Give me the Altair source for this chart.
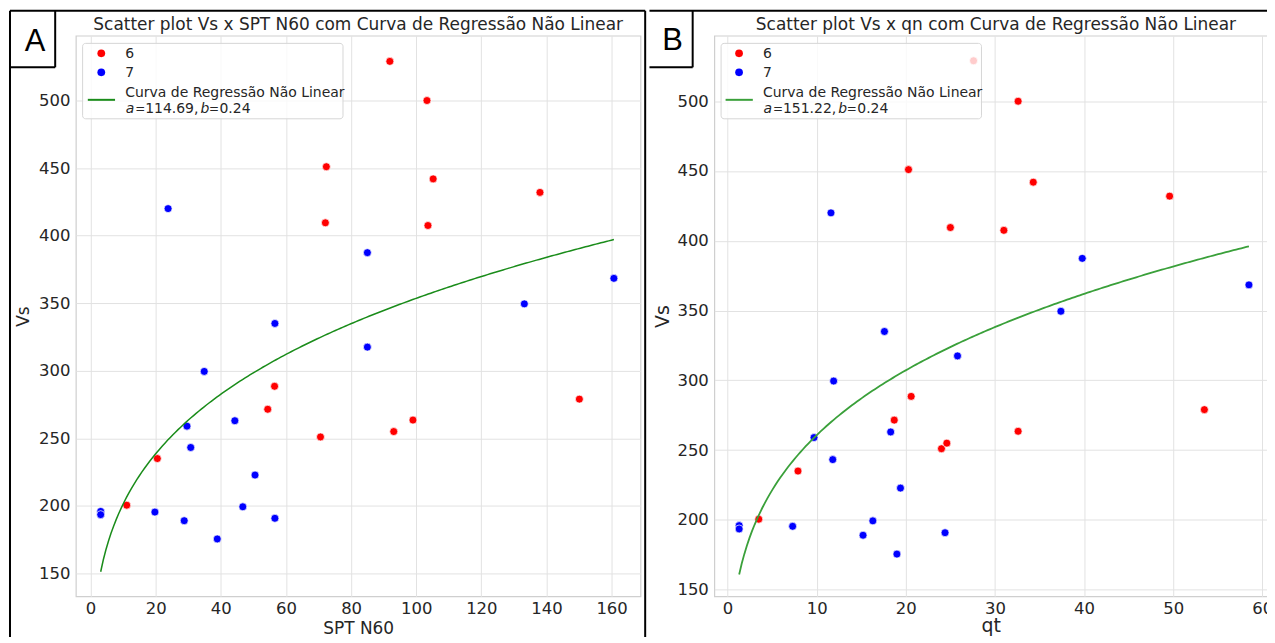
import altair as alt
import numpy as np
import pandas as pd

# ---------------- data ----------------
groups = ["6", "7"]
group_colors = ["#ff0000", "#0000ff"]

vs_red = [529, 500, 451, 442, 432, 409.5, 407.5, 288.5, 271.5, 251, 255, 263.5, 279, 235, 200.5]
spt_red = [91.9, 103.3, 72.4, 105.2, 138.0, 72.1, 103.6, 56.5, 54.4, 70.6, 93.1, 99.0, 150.1, 20.5, 11.1]
qt_red = [27.6, 32.6, 20.3, 34.3, 49.6, 25.0, 31.0, 20.6, 18.7, 24.0, 24.6, 32.6, 53.5, 7.9, 3.5]

vs_blue = [420, 387.4, 335, 349.5, 368.4, 317.5, 299.5, 259, 263, 243.2, 222.8, 195.9, 193.5,
           195.4, 189, 175.5, 199.3, 190.8]
spt_blue = [23.8, 85.0, 56.6, 133.2, 160.7, 85.0, 34.9, 29.6, 44.3, 30.75, 50.5, 3.1, 3.1,
            19.75, 28.75, 38.9, 46.75, 56.6]
qt_blue = [11.6, 39.8, 17.6, 37.4, 58.5, 25.8, 11.9, 9.7, 18.3, 11.8, 19.4, 1.3, 1.3,
           7.3, 15.2, 19.0, 16.3, 24.4]

# fitted model Vs = a * x^b (parameters shown, rounded, in the legends)
fit_a = [114.69, 151.22]
fit_b = [0.2445, 0.2366]
fit_a_text = ["114.69,", "151.22,"]
fit_b_text = ["0.24", "0.24"]

titles = ["Scatter plot Vs x SPT N60 com Curva de Regressão Não Linear",
          "Scatter plot Vs x qn com Curva de Regressão Não Linear"]
x_titles = ["SPT N60", "qt"]
letters = ["A", "B"]
x_ticks = [list(range(0, 161, 20)), list(range(0, 61, 10))]
y_ticks = list(range(150, 501, 50))
legend_curve_label = "Curva de Regressão Não Linear"

FONT = "DejaVu Sans"
INK = "#262626"
ONE = pd.DataFrame({"k": [0]})
H = 562


def points_frame(xr, xb):
    return pd.DataFrame({
        "x": list(xr) + list(xb),
        "vs": list(vs_red) + list(vs_blue),
        "grp": [groups[0]] * len(xr) + [groups[1]] * len(xb),
    })


def curve_frame(xs, a, b):
    xx = np.linspace(min(xs), max(xs), 200)
    return pd.DataFrame({"x": xx, "vs": a * xx ** b})


def txt(x, y, s, size, align="left", italic=False, font=FONT, color=INK):
    return alt.Chart(ONE).mark_text(
        text=s, align=align, baseline="alphabetic", font=font, fontSize=size,
        fontStyle="italic" if italic else "normal", color=color
    ).encode(x=alt.value(x), y=alt.value(y))


def hrule(x, x2, y, color="black", w=2):
    return alt.Chart(ONE).mark_rule(color=color, strokeWidth=w).encode(
        x=alt.value(x), x2=alt.value(x2), y=alt.value(y))


def vrule(x, y, y2, color="black", w=2):
    return alt.Chart(ONE).mark_rule(color=color, strokeWidth=w).encode(
        x=alt.value(x), y=alt.value(y), y2=alt.value(y2))


def panel(i, xr, xb, xdom, ydom, width, curve_color, curve_w, ax_title_size,
          y_title_pad, x_title_pad, frame, title_x, leg_text_x):
    pts = points_frame(xr, xb)
    cur = curve_frame(list(xr) + list(xb), fit_a[i], fit_b[i])
    xaxis = alt.Axis(values=x_ticks[i], title=x_titles[i], grid=True, gridColor="#e2e2e2",
                     gridWidth=1, domain=False, ticks=False, tickSize=0, labelFont=FONT,
                     labelFontSize=16.5, labelColor=INK, labelPadding=4, titleFont=FONT,
                     titleFontSize=ax_title_size, titleFontWeight="normal", titleColor=INK,
                     titlePadding=x_title_pad, labelFlush=False)
    yaxis = alt.Axis(values=y_ticks, title="Vs", grid=True, gridColor="#e2e2e2",
                     gridWidth=1, domain=False, ticks=False, tickSize=0, labelFont=FONT,
                     labelFontSize=16.5, labelColor=INK, labelPadding=6, titleFont=FONT,
                     titleFontSize=ax_title_size, titleFontWeight="normal", titleColor=INK,
                     titlePadding=y_title_pad)
    xs = alt.Scale(domain=xdom, nice=False, zero=False)
    ys = alt.Scale(domain=ydom, nice=False, zero=False)

    scatter = alt.Chart(pts).mark_circle(size=64, opacity=1, stroke="white", strokeWidth=0.7).encode(
        x=alt.X("x:Q", scale=xs, axis=xaxis),
        y=alt.Y("vs:Q", scale=ys, axis=yaxis),
        color=alt.Color("grp:N", scale=alt.Scale(domain=groups, range=group_colors), legend=None),
    )
    curve = alt.Chart(cur).mark_line(color=curve_color, strokeWidth=curve_w).encode(
        x=alt.X("x:Q", scale=xs, axis=xaxis),
        y=alt.Y("vs:Q", scale=ys, axis=yaxis),
    )

    # legend box (drawn over the data, like matplotlib's framed legend)
    leg_box = alt.Chart(ONE).mark_rect(fill="white", fillOpacity=0.8, stroke="#d6d6d6",
                                       strokeWidth=1, cornerRadius=3).encode(
        x=alt.value(6.8), x2=alt.value(267.8), y=alt.value(7.7), y2=alt.value(83.3))
    dot_r = alt.Chart(ONE).mark_circle(size=60, opacity=1, color=group_colors[0]).encode(
        x=alt.value(leg_text_x - 24), y=alt.value(17.7))
    dot_b = alt.Chart(ONE).mark_circle(size=60, opacity=1, color=group_colors[1]).encode(
        x=alt.value(leg_text_x - 24), y=alt.value(36.7))
    leg_line = hrule(leg_text_x - 37.5, leg_text_x - 10.2, 64.3, color=curve_color, w=2)
    t = leg_text_x
    leg_texts = [
        txt(t, 22.7, groups[0], 14),
        txt(t, 41.7, groups[1], 14),
        txt(t, 61, legend_curve_label, 14),
        txt(t + 0.5, 77, "a", 14, italic=True),
        txt(t + 15, 77, "=", 12, align="center"),
        txt(t + 20, 77, fit_a_text[i], 14),
        txt(t + 75.5, 77, "b", 14, italic=True),
        txt(t + 89, 77, "=", 12, align="center"),
        txt(t + 94.5, 77, fit_b_text[i], 14),
    ]

    title = txt(title_x, -5.7, titles[i], 17, align="center")
    letter = txt(frame["letter_x"], frame["letter_y"], letters[i], 31, align="center",
                 font="Liberation Sans", color="black")

    frame_marks = [hrule(frame["top_x0"], frame["top_x1"], -25)]
    for vx in frame["verticals"]:
        frame_marks.append(vrule(vx, -25, 610))
    frame_marks.append(vrule(frame["box_right"], -25, 31.7))
    frame_marks.append(hrule(frame["box_left"], frame["box_right"], 31.7))

    layers = [scatter, curve, leg_box, dot_r, dot_b, leg_line] + leg_texts + [title, letter] + frame_marks
    return alt.layer(*layers).properties(width=width, height=H)


chart_a = panel(
    0, spt_red, spt_blue, xdom=[-4.53, 168.87], ydom=[133.02, 548.0], width=566,
    curve_color="#1a8c1a", curve_w=1.5, ax_title_size=17, y_title_pad=6, x_title_pad=3.6,
    frame={"top_x0": -66, "top_x1": 570.7, "verticals": [-66, 570.7], "box_right": -20.7,
           "box_left": -66, "letter_x": -40.8, "letter_y": 15.3},
    title_x=283, leg_text_x=49.5,
)
chart_b = panel(
    1, qt_red, qt_blue, xdom=[-1.489, 60.56], ydom=[145.21, 546.97], width=554.3,
    curve_color="#3aa03a", curve_w=1.8, ax_title_size=19, y_title_pad=4, x_title_pad=-0.5,
    frame={"top_x0": -65, "top_x1": 554.3, "verticals": [], "box_right": -21.7,
           "box_left": -65, "letter_x": -41.9, "letter_y": 14.3},
    title_x=282.3, leg_text_x=48.8,
)

chart = alt.hconcat(chart_a, chart_b, spacing=0).properties(
    padding={"left": 0, "top": 0, "right": -7, "bottom": -10}, background="white"
).configure_view(stroke="#cfcfcf", strokeWidth=1.2)

chart.save("out.html", embed_options={"renderer": "svg", "actions": False})
